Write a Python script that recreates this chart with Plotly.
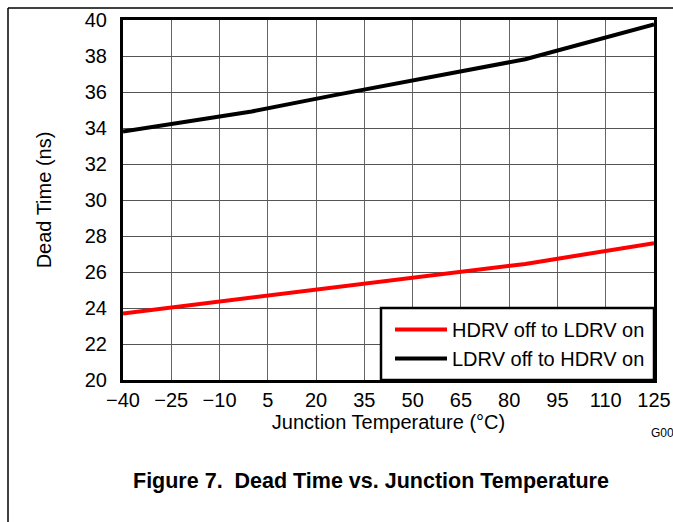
import plotly.graph_objects as go

temps = [-40, 0, 25, 85, 125]
hdrv_off_ldrv_on = [23.7, 24.57, 25.15, 26.45, 27.6]
ldrv_off_hdrv_on = [33.8, 34.92, 35.8, 37.82, 39.76]
x_ticks = [-40, -25, -10, 5, 20, 35, 50, 65, 80, 95, 110, 125]
x_tick_labels = ["\u221240", "\u221225", "\u221210", "5", "20", "35", "50", "65", "80", "95", "110", "125"]
y_ticks = [20, 22, 24, 26, 28, 30, 32, 34, 36, 38, 40]

FONT = "Arial, Liberation Sans, sans-serif"

fig = go.Figure()
fig.add_trace(go.Scatter(x=temps, y=hdrv_off_ldrv_on, mode="lines",
                         name="HDRV off to LDRV on",
                         line=dict(color="#ff0000", width=4)))
fig.add_trace(go.Scatter(x=temps, y=ldrv_off_hdrv_on, mode="lines",
                         name="LDRV off to HDRV on",
                         line=dict(color="#000000", width=4)))

L, R, T, B = 123, 19, 20, 142
W, H = 673, 522
pw, ph = W - L - R, H - T - B

def px(x):
    return (x - L) / pw

def py(y):
    return (H - B - y) / ph

fig.update_layout(
    width=W, height=H,
    margin=dict(l=L, r=R, t=T, b=B, pad=0, autoexpand=False),
    paper_bgcolor="white", plot_bgcolor="white",
    font=dict(family=FONT, size=20, color="black"),
    showlegend=True,
    legend=dict(x=px(390), y=py(344), xanchor="left", yanchor="middle",
                bgcolor="rgba(0,0,0,0)", borderwidth=0,
                font=dict(size=20, family=FONT), tracegroupgap=0,
                itemwidth=52),
    xaxis=dict(range=[-40, 125], tickvals=x_ticks, ticktext=x_tick_labels,
               showgrid=True, gridcolor="#666666", gridwidth=1.3,
               showline=True, linecolor="black", linewidth=3, mirror=True,
               ticks="", zeroline=False, ticklabelstandoff=0, automargin=False,
               tickfont=dict(size=20),
               title=dict(text="Junction Temperature (\u00b0C)", standoff=4,
                          font=dict(size=20))),
    yaxis=dict(range=[20, 40], tickvals=y_ticks,
               showgrid=True, gridcolor="#555555", gridwidth=1.3,
               showline=True, linecolor="black", linewidth=3, mirror=True,
               ticks="", zeroline=False, ticklabelstandoff=9, automargin=False,
               tickfont=dict(size=20),
               title=dict(text="Dead Time (ns)", standoff=28,
                          font=dict(size=20))),
    shapes=[
        dict(type="rect", xref="paper", yref="paper", layer="above",
             x0=px(381), x1=1, y0=0, y1=py(308),
             fillcolor="white", line=dict(color="black", width=2.5)),
        dict(type="line", xref="paper", yref="paper",
             x0=px(8), x1=px(700), y0=py(8), y1=py(8),
             line=dict(color="black", width=1.5)),
        dict(type="line", xref="paper", yref="paper",
             x0=px(8), x1=px(8), y0=py(8), y1=py(560),
             line=dict(color="black", width=1.5)),
    ],
    annotations=[
        dict(text="<b>Figure 7.  Dead Time vs. Junction Temperature</b>",
             xref="paper", yref="paper", x=px(371), y=py(481),
             xanchor="center", yanchor="middle", showarrow=False,
             font=dict(size=21.5, family=FONT)),
        dict(text="G00", xref="paper", yref="paper", x=px(676), y=py(433),
             xanchor="right", yanchor="middle", showarrow=False,
             font=dict(size=12, family=FONT)),
    ],
)

fig.write_html("out.html", config={"displayModeBar": False},
               post_script="document.body.style.margin='0';document.body.style.overflow='hidden';")
